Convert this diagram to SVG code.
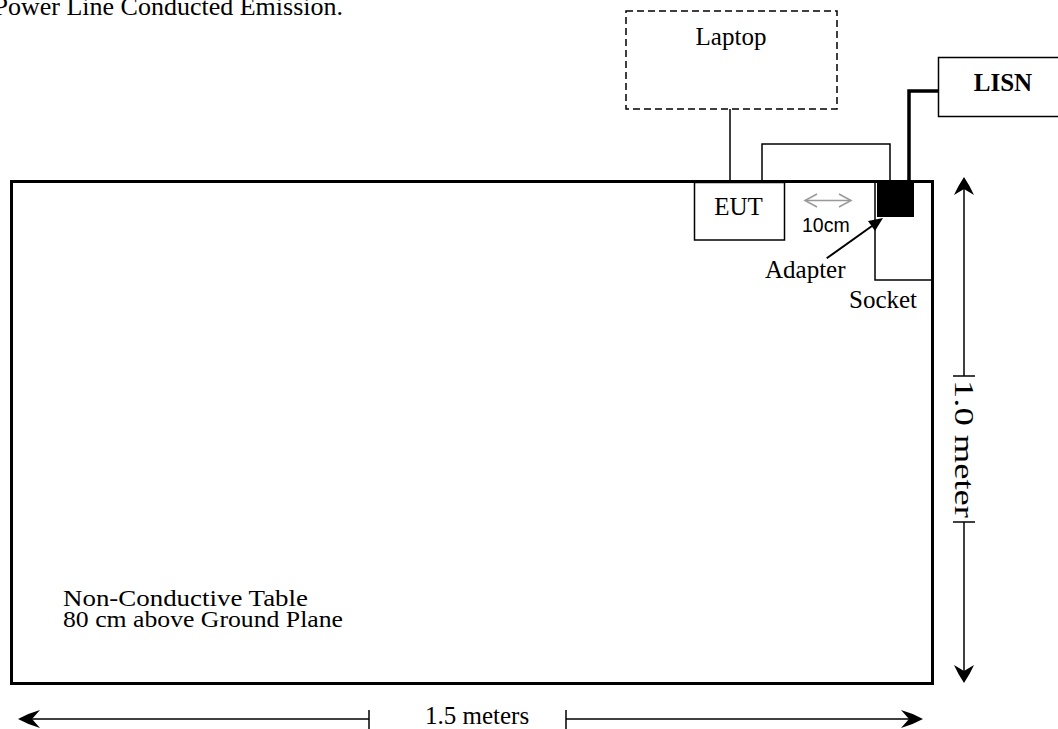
<svg xmlns="http://www.w3.org/2000/svg" width="1058" height="729" viewBox="0 0 1058 729">
<style>
text{font-family:"Liberation Serif","Times New Roman",serif;font-size:25px;fill:#000}
.box{fill:#fff;stroke:#000;stroke-width:1.5}
.wire{fill:none;stroke:#000;stroke-width:1.5}
.thick{fill:none;stroke:#000;stroke-width:3.5}
.dim{fill:none;stroke:#000;stroke-width:1.5}
.head{fill:#000;stroke:none}
</style>
<rect width="1058" height="729" fill="#fff"/>
<text id="title" x="-6.5" y="15" style="font-size:26px">Power Line Conducted Emission.</text>

<g id="table">
<rect x="11.5" y="181.5" width="921" height="502" fill="#fff" stroke="#000" stroke-width="3"/>
<text x="63" y="605.5" style="font-size:23px" textLength="245" lengthAdjust="spacingAndGlyphs">Non-Conductive Table</text>
<text x="63" y="626.5" style="font-size:23px" textLength="280" lengthAdjust="spacingAndGlyphs">80 cm above Ground Plane</text>
</g>

<g id="connectors">
<line class="wire" x1="730" y1="109" x2="730" y2="182"/>
<polyline class="wire" points="762,182 762,144 890,144 890,182"/>
<polyline class="thick" points="938,91 909,91 909,182"/>
<line x1="826.7" y1="258.3" x2="872" y2="226" stroke="#000" stroke-width="2"/>
<polygon class="head" points="883,218 875,231 868,221"/>
</g>

<g id="laptop">
<rect x="626" y="11" width="211" height="98" fill="#fff" stroke="#000" stroke-width="1.5" stroke-dasharray="7 4"/>
<text x="731" y="45" text-anchor="middle">Laptop</text>
</g>

<g id="lisn">
<rect class="box" x="938.5" y="57.5" width="130" height="59"/>
<text x="1003" y="91" text-anchor="middle" style="font-weight:bold">LISN</text>
</g>

<g id="eut">
<rect class="box" x="694.5" y="182.5" width="90" height="57.5"/>
<text x="738.5" y="215" text-anchor="middle">EUT</text>
</g>

<g id="socket">
<polyline class="wire" points="875,182 875,280 933,280"/>
<text x="849" y="308">Socket</text>
</g>

<g id="adapter">
<rect x="877" y="181" width="37" height="36" fill="#000"/>
<text x="765" y="278">Adapter</text>
</g>

<g id="spacing">
<line x1="805" y1="200.5" x2="851" y2="200.5" stroke="#999" stroke-width="1.5"/>
<polyline points="817,194 805,200.5 817,207" fill="none" stroke="#999" stroke-width="1.5"/>
<polyline points="839,194 851,200.5 839,207" fill="none" stroke="#999" stroke-width="1.5"/>
<text x="802" y="231.5" style="font-family:'Liberation Sans',Arial,sans-serif;font-size:19.5px">10cm</text>
</g>

<g id="dim-height">
<line class="dim" x1="964" y1="185" x2="964" y2="376"/>
<line class="dim" x1="964" y1="522" x2="964" y2="675"/>
<line class="dim" x1="953" y1="376" x2="975" y2="376"/>
<line class="dim" x1="953" y1="522" x2="975" y2="522"/>
<path class="head" d="M964,177 Q958,186 954,195 L964,189 L974,195 Q970,186 964,177 Z"/>
<path class="head" d="M964,683 Q958,674 954,665 L964,671 L974,665 Q970,674 964,683 Z"/>
<text transform="translate(955,380) rotate(90)" style="font-size:28px" textLength="138" lengthAdjust="spacingAndGlyphs">1.0 meter</text>
</g>

<g id="dim-width">
<line class="dim" x1="28" y1="719" x2="369" y2="719"/>
<line class="dim" x1="369" y1="710" x2="369" y2="729"/>
<line class="dim" x1="566" y1="710" x2="566" y2="729"/>
<line class="dim" x1="566" y1="719" x2="913" y2="719"/>
<path class="head" d="M18,719 Q29,713 40,710 L32,719 L40,728 Q29,725 18,719 Z"/>
<path class="head" d="M923,719 Q912,713 901,710 L909,719 L901,728 Q912,725 923,719 Z"/>
<text x="425" y="724">1.5 meters</text>
</g>
</svg>
